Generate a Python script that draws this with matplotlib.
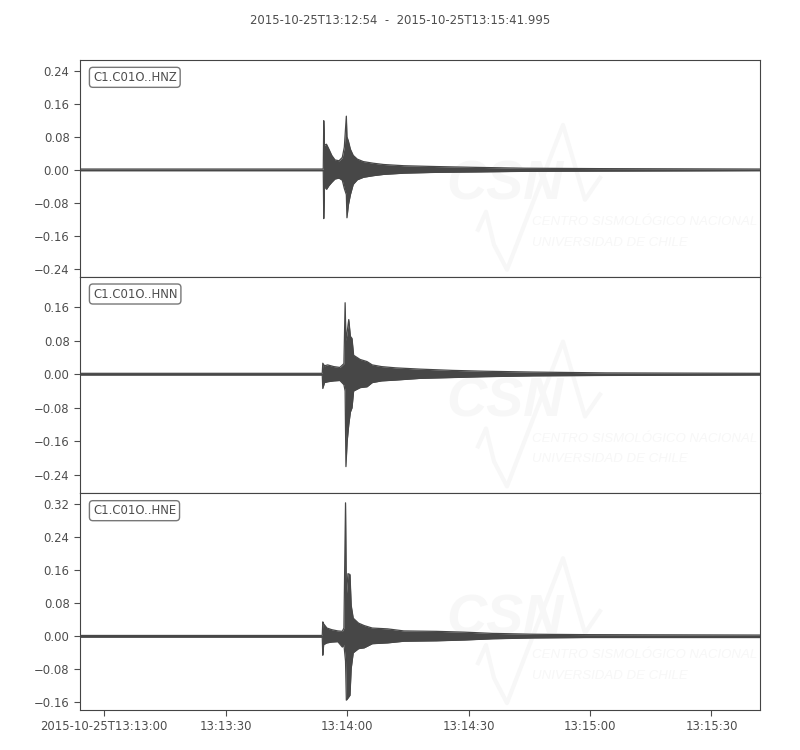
import numpy as np
import matplotlib.pyplot as plt
from matplotlib.ticker import MultipleLocator

# seismogram envelopes, time in s after 2015-10-25T13:12:54
title = "2015-10-25T13:12:54  -  2015-10-25T13:15:41.995"
channels = ["C1.C01O..HNZ", "C1.C01O..HNN", "C1.C01O..HNE"]
t_end = 167.995

hnz_t = [0, 59.95, 60.1, 60.22, 60.4, 60.9, 61.5, 62.2, 63.0, 64.0, 64.8, 65.3, 65.8, 65.95,
         66.3, 66.8, 67.5, 68.5, 70, 72.5, 75, 80, 88, 98, 110, 128, 167.995]
hnz_up = [0.002, 0.002, 0.003, 0.119, 0.06, 0.062, 0.05, 0.035, 0.024, 0.022, 0.03, 0.055, 0.13, 0.08,
          0.07, 0.05, 0.035, 0.026, 0.02, 0.016, 0.013, 0.01, 0.008, 0.006, 0.004, 0.003, 0.002]
hnz_lo = [-0.002, -0.002, -0.003, -0.118, -0.04, -0.047, -0.038, -0.03, -0.022, -0.02, -0.025, -0.045, -0.06, -0.116,
          -0.085, -0.06, -0.035, -0.024, -0.018, -0.014, -0.011, -0.008, -0.006, -0.005, -0.0035, -0.003, -0.002]

hnn_t = [0, 59.85, 59.98, 60.4, 61.2, 62.7, 64.2, 65.2, 65.5, 65.7, 66.0, 66.4, 66.8, 67.2, 67.6,
         69.2, 70.9, 72.2, 74.5, 78, 84, 92, 100, 112, 130, 167.995]
hnn_up = [0.002, 0.002, 0.026, 0.02, 0.022, 0.018, 0.016, 0.025, 0.17, 0.08, 0.10, 0.13, 0.09, 0.085, 0.045,
          0.035, 0.03, 0.022, 0.018, 0.015, 0.012, 0.009, 0.007, 0.005, 0.003, 0.002]
hnn_lo = [-0.002, -0.002, -0.034, -0.02, -0.018, -0.016, -0.015, -0.025, -0.04, -0.22, -0.16, -0.12, -0.09, -0.08, -0.04,
          -0.032, -0.03, -0.02, -0.016, -0.014, -0.01, -0.008, -0.006, -0.004, -0.003, -0.002]

hne_t = [0, 59.85, 59.98, 60.2, 61.0, 62.2, 63.7, 64.8, 65.2, 65.6, 65.8, 66.2, 66.7, 67.0, 67.5,
         68.8, 70.2, 72.2, 76, 80, 88, 95, 102, 112, 125, 167.995]
hne_up = [0.002, 0.002, 0.035, 0.03, 0.02, 0.016, 0.013, 0.012, 0.02, 0.324, 0.10, 0.152, 0.15, 0.075, 0.044,
          0.032, 0.026, 0.02, 0.018, 0.013, 0.012, 0.01, 0.007, 0.005, 0.004, 0.003]
hne_lo = [-0.002, -0.002, -0.046, -0.02, -0.016, -0.014, -0.013, -0.026, -0.02, -0.06, -0.155, -0.15, -0.143, -0.078, -0.04,
          -0.03, -0.028, -0.018, -0.016, -0.012, -0.011, -0.009, -0.006, -0.004, -0.003, -0.003]

ylims = [(-0.2586, 0.266), (-0.2836, 0.232), (-0.179, 0.347)]
tick_pos = [6, 36, 66, 96, 126, 156]
tick_labels = ["2015-10-25T13:13:00", "13:13:30", "13:14:00", "13:14:30", "13:15:00", "13:15:30"]

traces = [(hnz_t, hnz_up, hnz_lo), (hnn_t, hnn_up, hnn_lo), (hne_t, hne_up, hne_lo)]

fs = 8.4
txt = "#4d4d4d"
wave = "#474747"
wm = "#f7f7f7"

fig, axes = plt.subplots(3, 1, figsize=(8, 7.5), dpi=100, sharex=True)
fig.subplots_adjust(left=0.1, right=0.95, top=0.92, bottom=0.0533, hspace=0)

# faint logo zigzag, pixel coords relative to panel (x from fig left, y from panel top)
logo_px = [(478, 170), (486, 152), (494, 185), (507, 210), (563, 65), (585, 140), (600, 118)]

for ax, (t, up, lo), name, yl in zip(axes, traces, channels, ylims):
    # watermark
    ax.text(0.625, 0.42, "CSN", transform=ax.transAxes, ha="center", va="center",
            fontsize=40, fontweight="bold", style="italic", color=wm, zorder=0,
            family="Liberation Sans", clip_on=True)
    ax.text(0.665, 0.253, "CENTRO SISMOLÓGICO NACIONAL", transform=ax.transAxes, ha="left", va="center",
            fontsize=9.5, style="italic", color=wm, zorder=0, family="Liberation Sans", clip_on=True)
    ax.text(0.665, 0.157, "UNIVERSIDAD DE CHILE", transform=ax.transAxes, ha="left", va="center",
            fontsize=9.5, style="italic", color=wm, zorder=0, family="Liberation Sans", clip_on=True)
    lx = [(p[0] - 80) / 680 for p in logo_px]
    ly = [1 - p[1] / 217 for p in logo_px]
    ax.plot(lx, ly, transform=ax.transAxes, color=wm, lw=3, zorder=0)

    t = np.array(t)
    ax.fill_between(t, lo, up, color=wave, lw=0, zorder=2)
    ax.plot(t, up, color=wave, lw=0.9, zorder=3)
    ax.plot(t, lo, color=wave, lw=0.9, zorder=3)

    ax.set_ylim(*yl)
    ax.set_xlim(0, t_end)
    ax.yaxis.set_major_locator(MultipleLocator(0.08))
    ax.yaxis.set_major_formatter(plt.FuncFormatter(lambda v, p: f"{v:.2f}".replace("-", "\u2212")))
    ax.tick_params(axis="y", labelsize=fs, colors=txt, length=4)
    ax.tick_params(axis="x", labelsize=fs, colors=txt, length=4)
    for s in ax.spines.values():
        s.set_color("#444444")
    ax.text(0.019, 0.95, name, transform=ax.transAxes, ha="left", va="top", fontsize=fs, color=txt,
            bbox=dict(boxstyle="round,pad=0.3", fc="white", ec="#777777", lw=1), zorder=5)

for ax in axes[:-1]:
    ax.tick_params(axis="x", bottom=False, labelbottom=False)

axes[-1].set_xticks(tick_pos)
axes[-1].set_xticklabels(tick_labels)

fig.text(0.5, 1 - 20 / 750, title, ha="center", va="center", fontsize=fs, color=txt)

fig.savefig("out.png", dpi=100)
